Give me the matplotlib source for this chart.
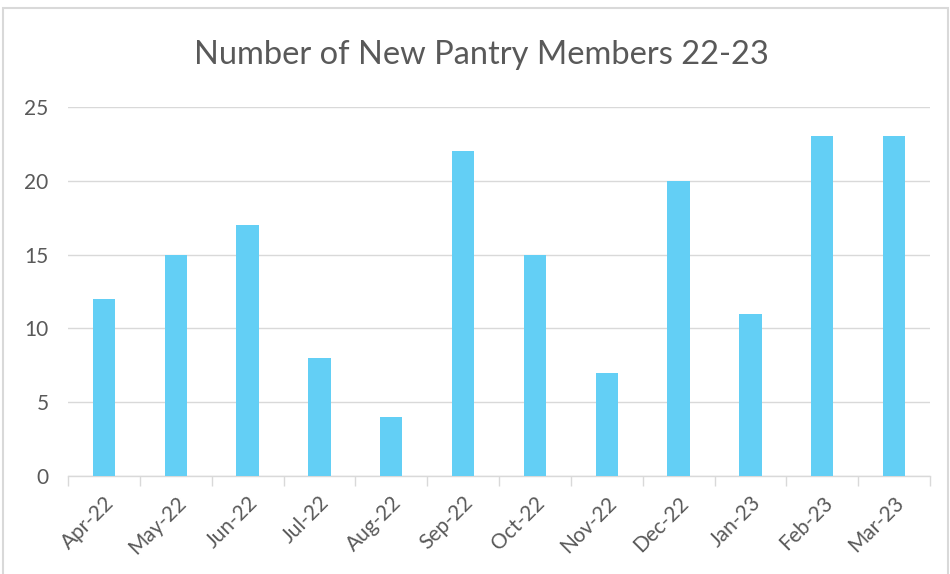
import matplotlib

matplotlib.use("Agg")
import matplotlib.pyplot as plt
from matplotlib.patches import Rectangle

months = ["Apr-22", "May-22", "Jun-22", "Jul-22", "Aug-22", "Sep-22",
          "Oct-22", "Nov-22", "Dec-22", "Jan-23", "Feb-23", "Mar-23"]
new_members = [12, 15, 17, 8, 4, 22, 15, 7, 20, 11, 23, 23]
y_ticks = [0, 5, 10, 15, 20, 25]

plt.rcParams["font.family"] = ["Lato", "DejaVu Sans"]

fig = plt.figure(figsize=(9.5, 5.74), dpi=100)
ax = fig.add_axes([0.0716, 0.1707, 0.9074, 0.643])

x = range(len(months))
ax.bar(x, new_members, width=0.31, color="#63cff5", zorder=3)

ax.set_xlim(-0.5, len(months) - 0.5)
ax.set_ylim(0, 25)
ax.set_yticks(y_ticks)
# category boundaries get the small tick marks, labels sit at the centres
ax.set_xticks([i - 0.5 for i in range(len(months) + 1)], minor=False)
ax.set_xticklabels([])
ax.set_xticks(list(x), minor=True)
ax.set_xticklabels(months, minor=True, rotation=45, ha="right",
                   rotation_mode="anchor", fontsize=15, color="#595959")
ax.tick_params(axis="x", which="major", length=7, color="#d9d9d9", width=1)
ax.tick_params(axis="x", which="minor", length=0, pad=12)
ax.tick_params(axis="y", length=0, labelsize=15, labelcolor="#595959", pad=14)

ax.grid(axis="y", color="#d9d9d9", linewidth=1, zorder=0)
for side in ["top", "right", "left"]:
    ax.spines[side].set_visible(False)
ax.spines["bottom"].set_color("#d9d9d9")
ax.spines["bottom"].set_linewidth(1)

fig.text(0.507, 0.905, "Number of New Pantry Members 22-23", ha="center",
         va="center", fontsize=23.5, color="#595959")

fig.patches.append(Rectangle((0.003, -0.01), 0.995, 0.996, transform=fig.transFigure,
                             fill=False, edgecolor="#d9d9d9", linewidth=1.5))

fig.savefig("out.png", dpi=100)
